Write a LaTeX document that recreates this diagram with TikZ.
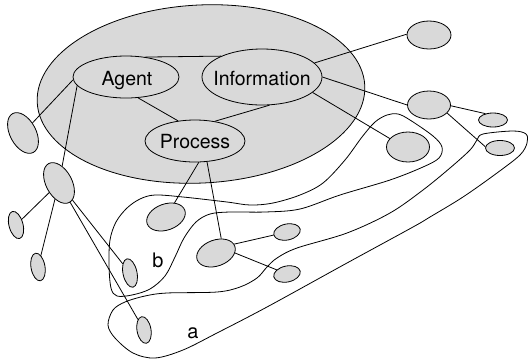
\documentclass[tikz,border=0pt]{standalone}
\usepackage{fontspec}
\setmainfont{TeX Gyre Heros}
\usetikzlibrary{shapes.geometric}
\definecolor{lightg}{RGB}{217,217,217}
\begin{document}
\begin{tikzpicture}[x=1pt,y=-1pt,
  ell/.style={ellipse,draw,fill=lightg,inner sep=0pt,line width=0.8pt},
  conn/.style={line width=0.8pt},
  lasso/.style={line width=0.8pt,smooth cycle,tension=0.55},
  txt/.style={anchor=base,inner sep=0pt,font=\fontsize{19.5}{22}\selectfont},
  lbl/.style={inner sep=0pt,font=\fontsize{20}{24}\selectfont}]
\useasboundingbox (0,0) rectangle (528,360);
% group ellipse
\node[ell, minimum width=328pt, minimum height=178pt, rotate=3] (grp) at (201,94) {};
% lassos
\draw[lasso] plot coordinates {(110,240) (116,222) (127,208) (140,199) (155,195) (183,197) (227,202) (250,205) (273,203) (300,195) (323,183) (345,160) (362,137) (375,122) (387,115) (398,114) (410,120) (433,136) (442,147) (439,158) (423,167) (390,180) (340,195) (300,209) (265,212) (230,212) (210,214) (196,222) (184,238) (175,257) (165,276) (150,289) (132,295) (117,296) (111,288) (109,265)};
\draw[lasso] plot coordinates {(113,310) (125,302) (145,296) (167,293) (217,292) (240,287) (257,278) (267,267) (277,258) (297,248) (347,233) (390,213) (423,190) (450,168) (470,150) (477,140) (483,134) (513,131) (526,134) (527,143) (520,155) (497,173) (463,197) (430,217) (413,227) (347,263) (267,307) (217,333) (183,350) (155,358) (133,353) (115,338) (108,325)};
% nodes
\node[ell, minimum width=106pt, minimum height=42pt] (agent) at (126,77) {};
\node[ell, minimum width=120pt, minimum height=56pt] (info) at (262,77) {};
\node[ell, minimum width=100pt, minimum height=42pt] (proc) at (195,141) {};
\node[txt] (agentt) at (127,85) {Agent};
\node[txt] (infot) at (262,85) {Information};
\node[txt] (proct) at (195,148) {Process};
% connectors
\draw[conn] (agent.46) -- (info.153);
\draw[conn] (agent.-60) -- (proc.130);
\draw[conn] (info.-75) -- (proc.45);
\node[ell, minimum width=26pt, minimum height=44pt, rotate=28] (l1) at (23,133) {};
\node[ell, minimum width=26pt, minimum height=44pt, rotate=28] (h) at (59,183) {};
\node[ell, minimum width=14pt, minimum height=28pt, rotate=15] (p1) at (16,225) {};
\node[ell, minimum width=14pt, minimum height=28pt, rotate=10] (p2) at (38,267) {};
\node[ell, minimum width=14pt, minimum height=29pt, rotate=12] (p3) at (130,273) {};
\node[ell, minimum width=14pt, minimum height=27pt, rotate=10] (p4) at (144,330) {};
\node[ell, minimum width=40pt, minimum height=26pt, rotate=20] (q1) at (166,217) {};
\node[ell, minimum width=40pt, minimum height=26pt, rotate=20] (e) at (216,253) {};
\node[ell, minimum width=27pt, minimum height=16pt, rotate=12] (t1) at (287,232) {};
\node[ell, minimum width=27pt, minimum height=16pt, rotate=12] (t2) at (287,274) {};
\node[ell, minimum width=44pt, minimum height=28pt] (n1) at (429,35) {};
\node[ell, minimum width=43pt, minimum height=28pt] (n2) at (429,105) {};
\node[ell, minimum width=43pt, minimum height=30pt] (n3) at (408,147) {};
\node[ell, minimum width=29pt, minimum height=14pt] (s1) at (493,120) {};
\node[ell, minimum width=29pt, minimum height=15pt] (s2) at (500,148) {};
\draw[conn] (agent.183) -- (l1);
\draw[conn] (agent.190) -- (h);
\draw[conn] (h) -- (p1);
\draw[conn] (h) -- (p2);
\draw[conn] (h) -- (p3);
\draw[conn] (h) -- (p4);
\draw[conn] (proc.-80) -- (q1);
\draw[conn] (proc.-60) -- (e.50);
\draw[conn] (e.6) -- (t1);
\draw[conn] (e.-20) -- (t2);
\draw[conn] (info.15) -- (n1.178);
\draw[conn] (info.0) -- (n2.180);
\draw[conn] (info.-17) -- (n3.155);
\draw[conn] (n2.-2) -- (s1.140);
\draw[conn] (n2.-24) -- (s2.175);
% labels
\node[lbl] (la) at (193,333) {a};
\node[lbl] (lb) at (158,260) {b};
\end{tikzpicture}
\end{document}
